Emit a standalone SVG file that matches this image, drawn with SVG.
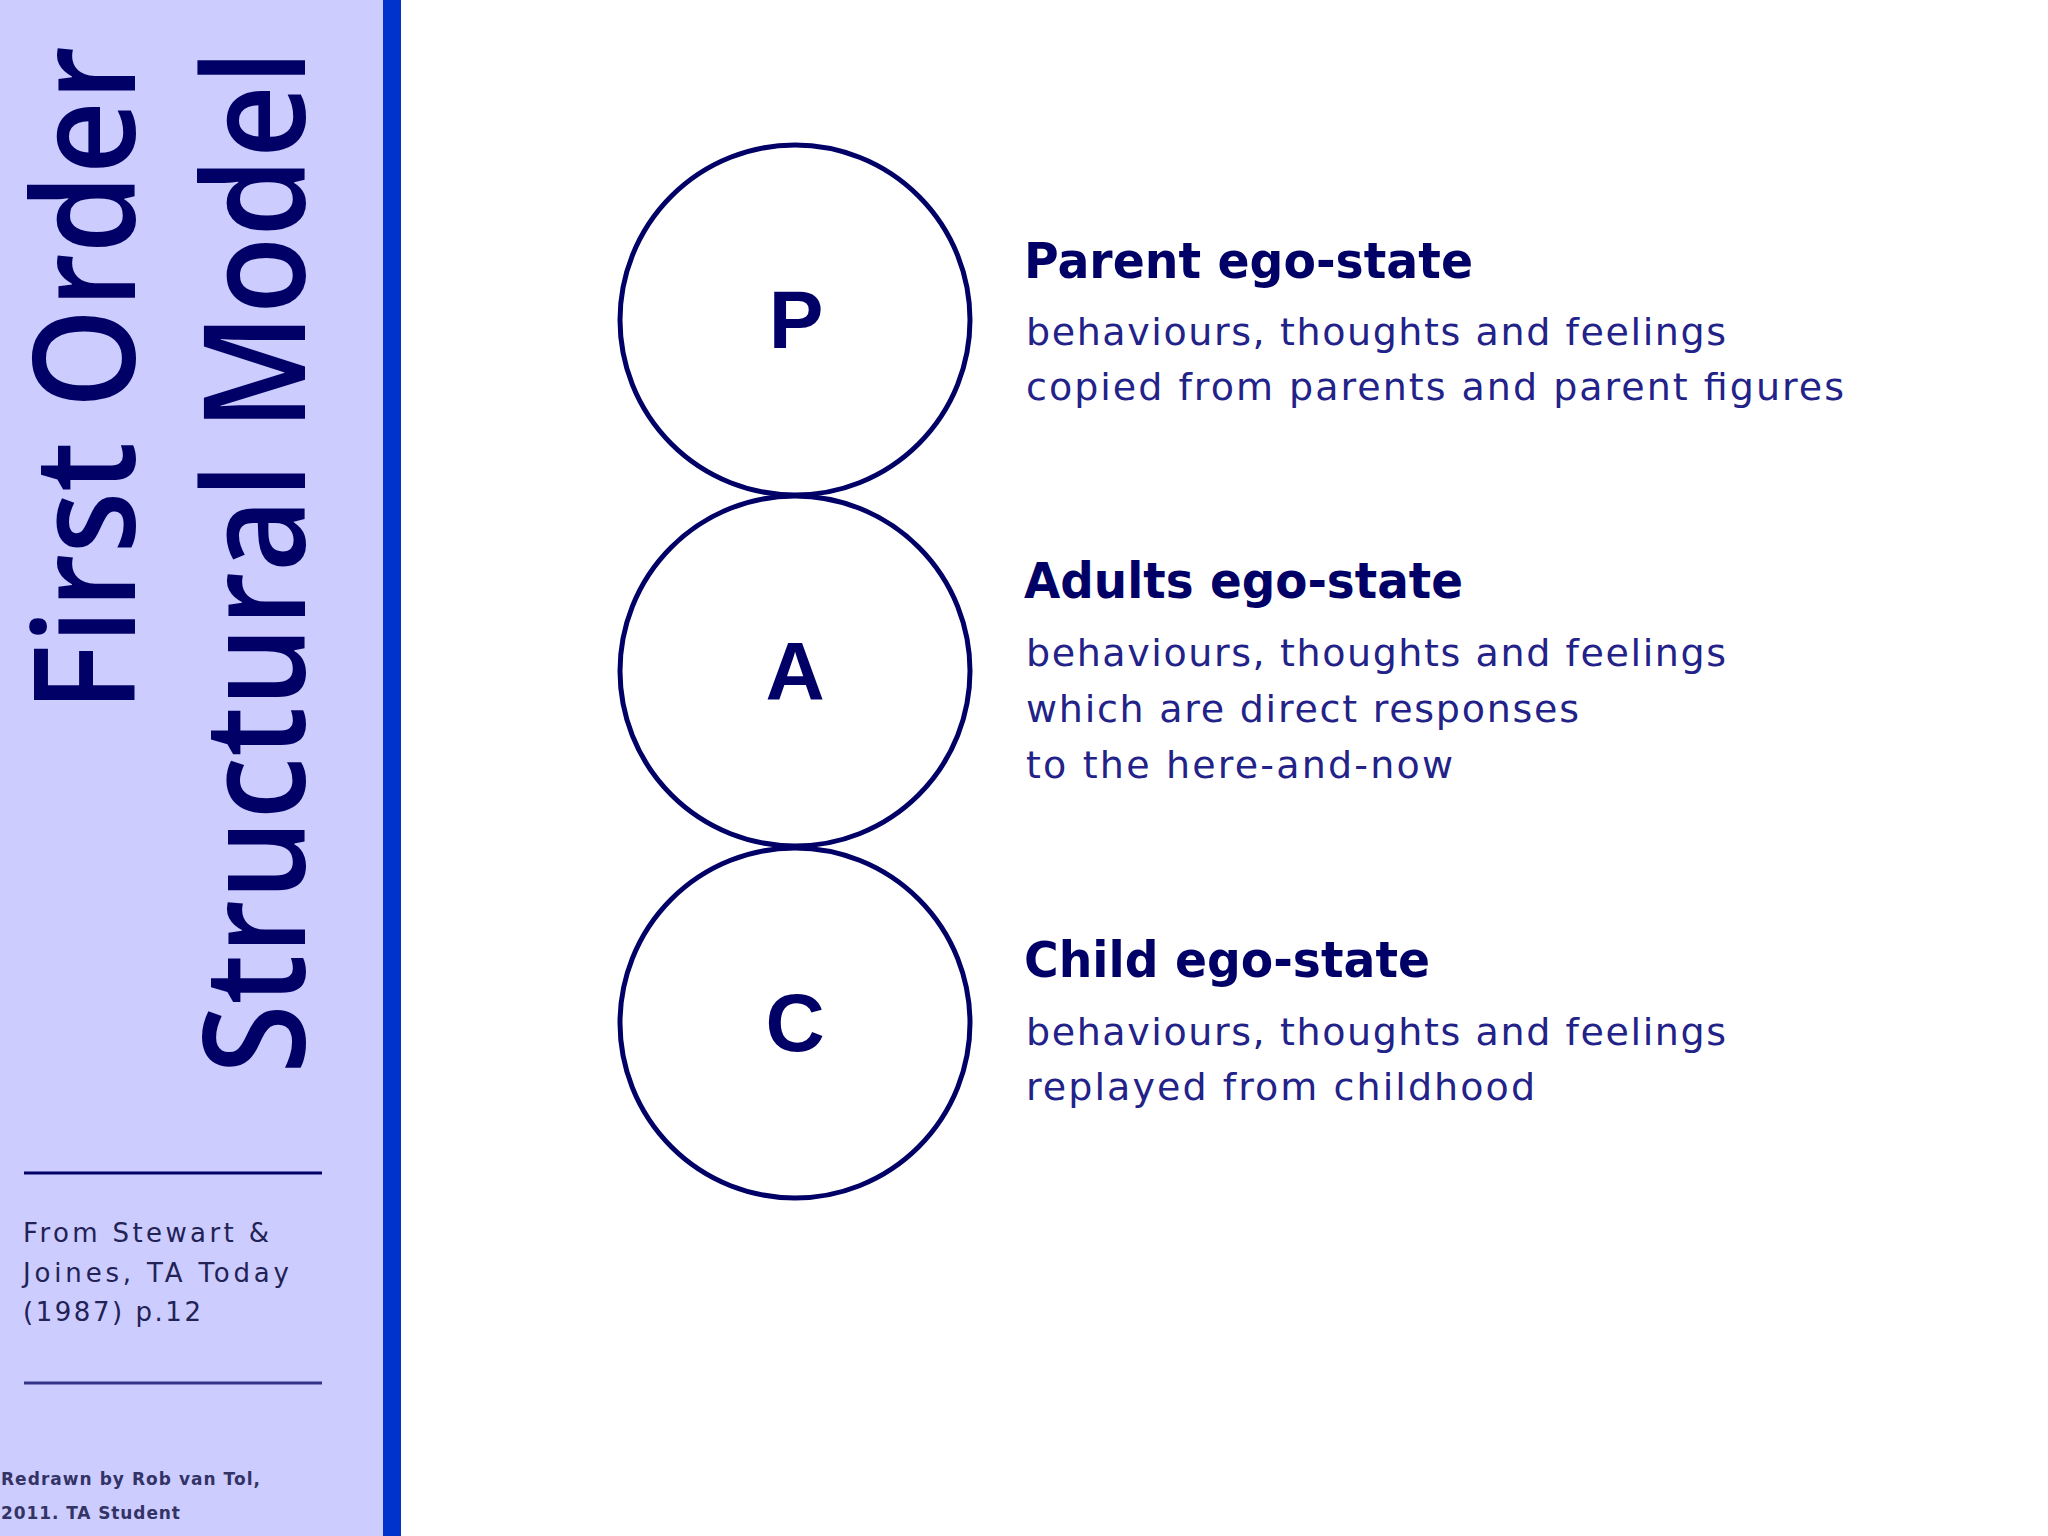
<svg xmlns="http://www.w3.org/2000/svg" width="2048" height="1536" viewBox="0 0 2048 1536">
  <style>
    .title { font-family: "Open Sans", "DejaVu Sans", sans-serif; font-weight: 600; font-size: 142px; fill: #000066; }
    .circ { fill: #ffffff; stroke: #000066; stroke-width: 5; }
    .letter { font-family: "Liberation Sans", Arial, sans-serif; font-weight: bold; font-size: 82px; fill: #000066; text-anchor: middle; }
    .head { font-family: "DejaVu Sans", sans-serif; font-weight: bold; font-size: 49px; fill: #000066; }
    .body { font-family: "DejaVu Sans", sans-serif; font-size: 38px; fill: #222288; }
    .ref { font-family: "DejaVu Sans", sans-serif; font-size: 26px; fill: #222255; }
    .credit { font-family: "DejaVu Sans", sans-serif; font-weight: bold; font-size: 17px; fill: #333366; }
    .rule { stroke-width: 3; }
  </style>
  <rect x="0" y="0" width="2048" height="1536" fill="#ffffff"/>
  <g id="sidebar">
    <rect x="0" y="0" width="384" height="1536" fill="#ccccff"/>
    <rect x="383" y="0" width="18" height="1536" fill="#0033cc"/>
    <text class="title" transform="translate(135,712) rotate(-90)" textLength="666" lengthAdjust="spacingAndGlyphs">First Order</text>
    <text class="title" transform="translate(305,1074) rotate(-90)" textLength="1024" lengthAdjust="spacingAndGlyphs">Structural Model</text>
    <line class="rule" x1="24" y1="1173" x2="322" y2="1173" stroke="#000066"/>
    <line class="rule" x1="24" y1="1383" x2="322" y2="1383" stroke="#333388"/>
    <text class="ref" x="23" y="1242" textLength="246" lengthAdjust="spacing">From Stewart &amp;</text>
    <text class="ref" x="23" y="1282" textLength="266" lengthAdjust="spacing">Joines, TA Today</text>
    <text class="ref" x="23" y="1321" textLength="178" lengthAdjust="spacing">(1987) p.12</text>
    <text class="credit" x="1" y="1485" textLength="259" lengthAdjust="spacing">Redrawn by Rob van Tol,</text>
    <text class="credit" x="1" y="1519" textLength="179" lengthAdjust="spacing">2011. TA Student</text>
  </g>
  <g id="connectors"></g>
  <g id="node-parent">
    <circle class="circ" cx="795" cy="320" r="175"/>
    <text class="letter" x="796" y="348">P</text>
    <text class="head" x="1024" y="278" textLength="449" lengthAdjust="spacingAndGlyphs">Parent ego-state</text>
    <text class="body" x="1026" y="345" textLength="700" lengthAdjust="spacing">behaviours, thoughts and feelings</text>
    <text class="body" x="1026" y="400" textLength="818" lengthAdjust="spacing">copied from parents and parent figures</text>
  </g>
  <g id="node-adult">
    <circle class="circ" cx="795" cy="671" r="175"/>
    <text class="letter" x="795" y="699">A</text>
    <text class="head" x="1024" y="598" textLength="439" lengthAdjust="spacingAndGlyphs">Adults ego-state</text>
    <text class="body" x="1026" y="666" textLength="700" lengthAdjust="spacing">behaviours, thoughts and feelings</text>
    <text class="body" x="1026" y="722" textLength="553" lengthAdjust="spacing">which are direct responses</text>
    <text class="body" x="1026" y="778" textLength="427" lengthAdjust="spacing">to the here-and-now</text>
  </g>
  <g id="node-child">
    <circle class="circ" cx="795" cy="1023" r="175"/>
    <text class="letter" x="795" y="1051">C</text>
    <text class="head" x="1024" y="977" textLength="406" lengthAdjust="spacingAndGlyphs">Child ego-state</text>
    <text class="body" x="1026" y="1045" textLength="700" lengthAdjust="spacing">behaviours, thoughts and feelings</text>
    <text class="body" x="1026" y="1100" textLength="509" lengthAdjust="spacing">replayed from childhood</text>
  </g>
</svg>
